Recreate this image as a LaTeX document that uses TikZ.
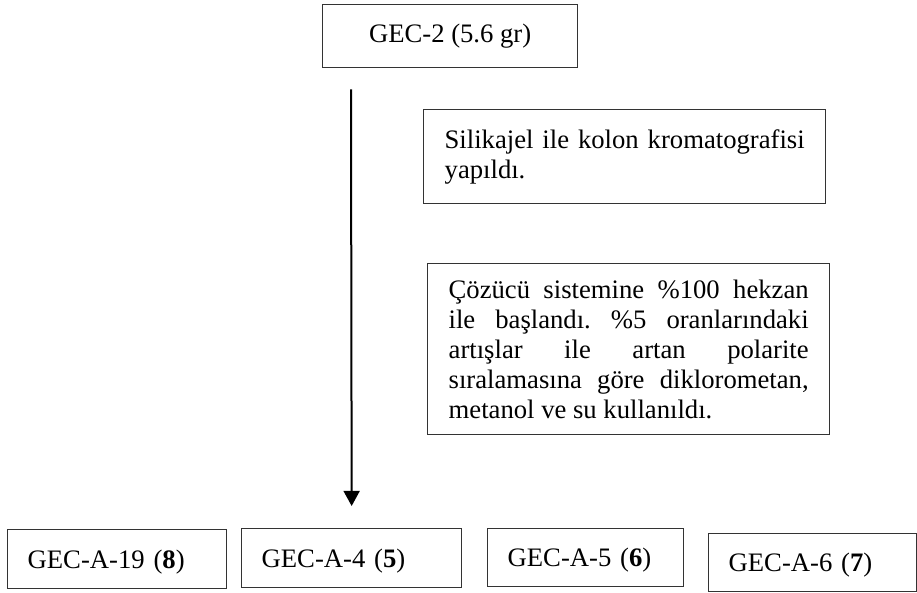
\documentclass[tikz,border=0pt]{standalone}
\usepackage{fontspec}
\setmainfont{Liberation Serif}
\usetikzlibrary{arrows.meta}
\frenchspacing
\begin{document}
\begin{tikzpicture}[x=0.45pt,y=-0.45pt,
  box/.style={draw=black!80, line width=0.6pt, inner sep=0pt, font=\fontsize{12}{13.5}\selectfont\frenchspacing},
  txtbox/.style={box, text width=162pt, inner xsep=9.45pt, align=justify, anchor=north west},
  outbox/.style={box, anchor=north west, align=left, inner xsep=9pt, text depth=0pt},
  flow/.style={line width=0.9pt, -{Triangle[width=7.2pt,length=6.8pt]}}
]
\useasboundingbox (0,0) rectangle (917,593);
\node[box, minimum width=114.75pt, minimum height=28.35pt, anchor=north west] (top) at (322,4) {GEC-2 (5.6 gr)};
\node[txtbox, minimum height=42.3pt] (silika) at (423,109) {Silikajel ile kolon kromatografisi\linebreak yapıldı.};
\node[txtbox, minimum height=76.95pt] (cozucu) at (427,263) {Çözücü sistemine \%100 hekzan\linebreak ile başlandı. \%5 oranlarındaki\linebreak artışlar ile artan polarite\linebreak sıralamasına göre diklorometan,\linebreak metanol ve su kullanıldı.};
\node[outbox, text width=80.55pt, minimum height=26.55pt] (b1) at (7,529) {GEC-A-19 ({\bfseries 8})};
\node[outbox, text width=81pt, minimum height=26.55pt] (b2) at (241,528) {GEC-A-4 ({\bfseries 5})};
\node[outbox, text width=70.2pt, minimum height=26.1pt] (b3) at (487,528) {GEC-A-5 ({\bfseries 6})};
\node[outbox, text width=75.6pt, minimum height=26.1pt] (b4) at (708,533) {GEC-A-6 ({\bfseries 7})};
\coordinate (s) at ([xshift=13.05pt,yshift=-9.45pt]top.south west);
\coordinate (e) at ([yshift=9.9pt]b2.north);
\draw[flow] (s) -- (e);
\end{tikzpicture}
\end{document}
